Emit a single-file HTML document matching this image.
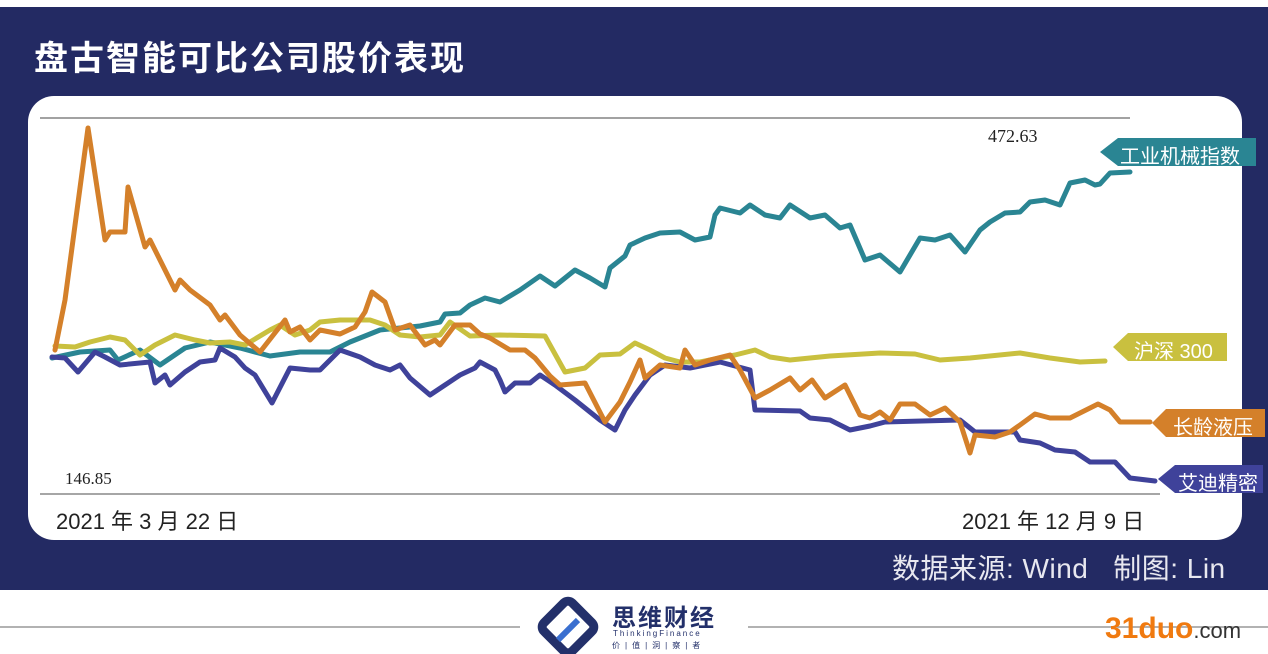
<!DOCTYPE html><html><head><meta charset="utf-8"><style>
body{margin:0;width:1268px;height:654px;background:#fff;overflow:hidden;font-family:"Liberation Sans","Noto Sans CJK SC",sans-serif;position:relative}
.bg{position:absolute;left:0;top:7px;width:1268px;height:583px;background:#232a63}
.card{position:absolute;left:28px;top:96px;width:1214px;height:444px;background:#fff;border-radius:26px}
.t{position:absolute;white-space:nowrap}
</style></head><body>
<div class="bg"></div><div class="card"></div>
<div class="t" style="left:34px;top:31px;font-size:34px;color:#fff;font-weight:bold;letter-spacing:2px">盘古智能可比公司股价表现</div>
<svg class="t" style="left:0;top:0" width="1268" height="654">
<line x1="40" y1="118" x2="1130" y2="118" stroke="#444" stroke-width="1"/>
<line x1="40" y1="494" x2="1160" y2="494" stroke="#888" stroke-width="1.5"/>
<g fill="none" stroke-width="5" stroke-linejoin="round" stroke-linecap="round">
<polyline stroke="#2a8593" points="52,358 80,352 110,350 118,360 140,350 160,365 185,348 210,342 240,348 270,356 300,352 330,352 350,342 380,330 420,326 440,322 445,314 460,313 470,305 485,298 500,302 520,290 540,276 555,286 575,270 590,278 605,287 610,268 625,256 630,245 645,238 660,233 680,232 695,240 710,237 715,215 720,208 740,213 750,205 765,215 780,218 790,205 810,218 825,215 840,228 850,225 865,260 880,255 900,272 920,238 935,240 950,235 965,252 980,230 990,222 1005,213 1020,212 1030,202 1045,200 1060,205 1070,183 1085,180 1095,185 1100,184 1110,173 1130,172"/>
<polyline stroke="#c9c03f" points="55,346 75,347 90,342 110,337 125,340 140,355 155,345 175,335 195,340 210,343 230,342 245,345 270,330 280,325 295,335 310,330 320,322 340,320 370,320 385,325 400,335 420,337 440,335 450,322 470,336 500,335 545,336 565,372 585,368 600,355 620,354 635,343 650,350 665,358 680,362 700,362 720,358 735,355 755,350 770,357 790,360 830,356 880,353 915,354 940,360 970,358 1020,353 1050,358 1080,362 1105,361"/>
<polyline stroke="#3f429a" points="52,357 65,358 78,372 95,352 105,357 120,365 150,362 155,383 165,375 170,385 185,372 200,362 215,360 220,348 235,357 245,368 255,375 272,403 290,368 310,370 320,370 335,355 340,350 360,357 375,365 390,370 400,365 410,378 430,395 445,385 460,375 475,368 480,362 495,370 500,380 505,392 515,383 530,383 540,375 555,385 575,400 600,420 615,430 625,410 635,395 650,375 665,365 690,368 720,362 750,370 755,410 800,411 810,418 830,420 850,430 870,426 885,422 960,420 975,432 1015,432 1020,440 1040,443 1055,450 1075,452 1090,462 1115,462 1130,478 1155,481"/>
<polyline stroke="#d4802a" points="55,350 65,300 88,128 105,240 110,232 125,232 128,187 145,247 150,240 160,260 175,290 180,280 190,290 210,305 220,320 225,315 240,335 260,352 285,320 290,332 300,327 310,340 320,330 340,334 355,327 365,312 372,292 385,302 395,330 410,325 425,345 435,340 440,345 455,325 470,325 480,334 490,338 510,350 525,350 535,358 550,376 560,385 585,383 605,422 620,402 630,382 640,360 645,378 660,365 680,368 685,350 695,365 710,360 730,355 740,370 755,398 770,390 790,378 800,390 812,380 825,398 845,385 860,415 870,418 880,412 890,420 900,404 915,404 930,415 945,408 960,422 970,453 975,435 995,437 1010,432 1020,425 1035,414 1050,418 1070,418 1098,404 1110,410 1120,422 1150,422"/>
</g>
<polygon fill="#2a8593" points="1100,152 1118,138 1256,138 1256,166 1118,166"/>
<polygon fill="#c9c03f" points="1113,347 1128,333 1227,333 1227,361 1128,361"/>
<polygon fill="#d4802a" points="1152,423 1166,409 1265,409 1265,437 1166,437"/>
<polygon fill="#3f429a" points="1158,479 1175,465 1263,465 1263,493 1175,493"/>
<line x1="0" y1="627" x2="520" y2="627" stroke="#999" stroke-width="1.5"/>
<line x1="748" y1="627" x2="1268" y2="627" stroke="#999" stroke-width="1.5"/>
<g transform="translate(568,627) rotate(45)"><rect x="-20" y="-20" width="40" height="40" rx="6" fill="none" stroke="#23306a" stroke-width="9"/></g>
<polyline points="558,640 578,620" stroke="#3a6fd0" stroke-width="6" fill="none"/>
</svg>
<div class="t" style="left:1120px;top:140px;font-size:20px;color:#fff">工业机械指数</div>
<div class="t" style="left:1134px;top:335px;font-size:20px;color:#fff">沪深 300</div>
<div class="t" style="left:1173px;top:411px;font-size:20px;color:#fff">长龄液压</div>
<div class="t" style="left:1178px;top:467px;font-size:20px;color:#fff">艾迪精密</div>
<div class="t" style="left:988px;top:126px;font-size:18px;font-family:'Liberation Serif',serif;color:#222">472.63</div>
<div class="t" style="left:65px;top:469px;font-size:17px;font-family:'Liberation Serif',serif;color:#222">146.85</div>
<div class="t" style="left:56px;top:504px;font-size:22px;color:#222">2021 年 3 月 22 日</div>
<div class="t" style="left:962px;top:504px;font-size:22px;color:#222">2021 年 12 月 9 日</div>
<div class="t" style="left:892px;top:547px;font-size:28px;color:#e8e8f0;letter-spacing:0.5px">数据来源: Wind &nbsp;&nbsp;制图: Lin</div>
<div class="t" style="left:612px;top:598px;font-size:24px;font-weight:bold;color:#23306a;letter-spacing:2px">思维财经</div>
<div class="t" style="left:613px;top:629px;font-size:8px;color:#23306a;letter-spacing:2px">ThinkingFinance</div>
<div class="t" style="left:612px;top:640px;font-size:8px;color:#23306a;letter-spacing:5px">价|值|洞|察|者</div>
<div class="t" style="left:1105px;top:612px;font-size:30px;font-weight:bold;color:#f07a10">31duo<span style="font-size:22px;color:#333;font-weight:normal">.com</span></div>
</body></html>
